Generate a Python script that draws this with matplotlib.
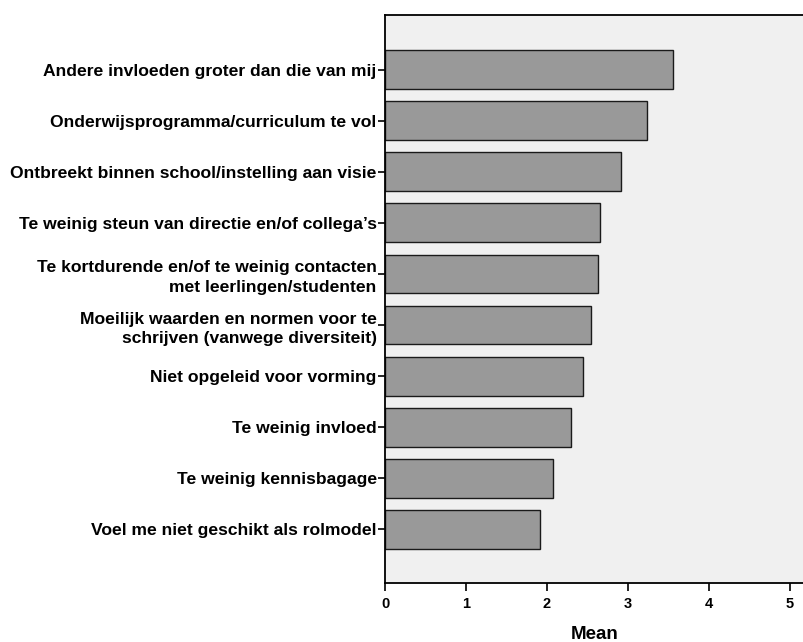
import matplotlib.pyplot as plt

categories = [
    'Andere invloeden groter dan die van mij',
    'Onderwijsprogramma/curriculum te vol',
    'Ontbreekt binnen school/instelling aan visie',
    'Te weinig steun van directie en/of collega\u2019s',
    'Te kortdurende en/of te weinig contacten\nmet leerlingen/studenten',
    'Moeilijk waarden en normen voor te\nschrijven (vanwege diversiteit)',
    'Niet opgeleid voor vorming',
    'Te weinig invloed',
    'Te weinig kennisbagage',
    'Voel me niet geschikt als rolmodel',
]
means = [3.56, 3.24, 2.91, 2.66, 2.63, 2.54, 2.44, 2.29, 2.08, 1.91]
xticks = [0, 1, 2, 3, 4, 5]

plt.rcParams['font.family'] = ['Liberation Sans', 'DejaVu Sans']
plt.rcParams['font.weight'] = 'bold'

fig = plt.figure(figsize=(8.04, 6.42), dpi=100)
ax = fig.add_axes([0.4789, 0.0919, 0.5211, 0.8847])
ax.set_facecolor('#f0f0f0')

ypos = list(range(len(categories)))
ax.barh(ypos, means, height=0.76, color='#999999', edgecolor='#1a1a1a', linewidth=1.0)

ax.set_xlim(0, 5.173)
ax.set_ylim(9 + 1.05, -1.07)
ax.set_yticks(ypos)
ax.set_yticklabels(categories, fontsize=12.6, fontweight='bold', ha='right', linespacing=1.4)
ax.set_xticks(xticks)
ax.set_xticklabels([str(t) for t in xticks], fontsize=10.5, fontweight='bold')
ax.set_xlabel('Mean', fontsize=13.5, fontweight='bold', labelpad=11)

ax.tick_params(axis='y', direction='out', length=5, width=1.2, color='black', pad=1)
ax.tick_params(axis='x', direction='out', length=6, width=1.2, color='black', pad=4)
for side in ['left', 'bottom', 'top']:
    ax.spines[side].set_linewidth(1.3)
    ax.spines[side].set_color('black')
ax.spines['right'].set_visible(False)

fig.savefig('out.png', dpi=100)
